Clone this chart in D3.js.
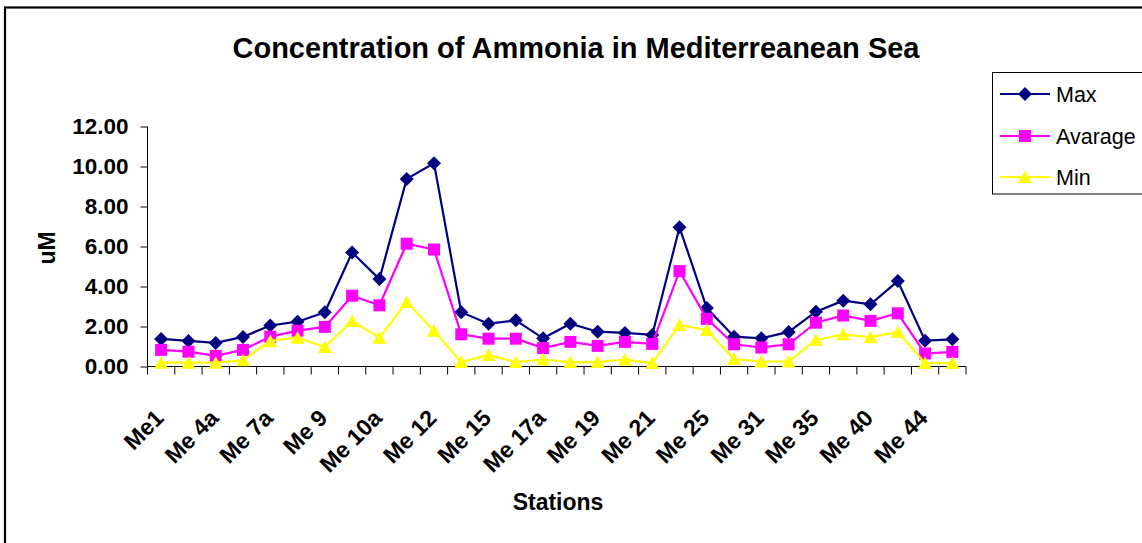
<!DOCTYPE html>
<html>
<head>
<meta charset="utf-8">
<script src="https://cdn.jsdelivr.net/npm/d3@7"></script>
<style>
  html, body { margin: 0; padding: 0; background: #fff; }
  svg { display: block; font-family: "Liberation Sans", Arial, sans-serif; }
</style>
</head>
<body>
<svg id="chart" width="1142" height="543"></svg>
<script>
const stations = ["Me1","Me 3","Me 4a","Me 6","Me 7a","Me 8","Me 9","Me 10","Me 10a","Me 11",
  "Me 12","Me 13","Me 15","Me 16","Me 17a","Me 18","Me 19","Me 20","Me 21","Me 23",
  "Me 25","Me 27","Me 31","Me 33","Me 35","Me 37","Me 40","Me 42","Me 44","Me 46"];
const shownLabels = ["Me1","Me 4a","Me 7a","Me 9","Me 10a","Me 12","Me 15","Me 17a","Me 19","Me 21","Me 25","Me 31","Me 35","Me 40","Me 44"];
const maxValues = [1.38,1.28,1.18,1.48,2.05,2.24,2.71,5.70,4.37,9.38,
  10.16,2.71,2.14,2.31,1.41,2.14,1.74,1.68,1.58,6.96,
  2.92,1.49,1.41,1.73,2.74,3.29,3.11,4.27,1.29,1.36];
const avgValues = [0.83,0.74,0.53,0.83,1.49,1.79,1.98,3.54,3.06,6.14,
  5.85,1.61,1.39,1.39,0.92,1.23,1.03,1.23,1.13,4.77,
  2.38,1.11,0.95,1.11,2.19,2.55,2.28,2.66,0.65,0.73];
const minValues = [0.19,0.19,0.19,0.31,1.28,1.44,0.97,2.28,1.44,3.22,
  1.79,0.22,0.58,0.22,0.35,0.22,0.22,0.35,0.17,2.08,
  1.83,0.37,0.25,0.25,1.33,1.61,1.46,1.73,0.17,0.17];
const yTicks = [0,2,4,6,8,10,12];
const seriesNames = ["Max","Avarage","Min"];
const seriesColors = ["#000080","#FF00FF","#FFFF00"];
const seriesShapes = ["diamond","square","triangle"];

const svg = d3.select("#chart");
const plotLeft = 147.5, plotRight = 966, plotTop = 126.5, plotBottom = 366.5;

// outer frame
svg.append("rect").attr("x",5).attr("y",7.5).attr("width",1160).attr("height",560)
  .attr("fill","none").attr("stroke","#000").attr("stroke-width",2.2);

const x = d3.scaleBand().domain(stations).range([plotLeft, plotRight]);
const y = d3.scaleLinear().domain([0,12]).range([plotBottom, plotTop]);

// title
svg.append("text").attr("x",576).attr("y",58).attr("text-anchor","middle")
  .attr("font-weight","bold").attr("font-size",29)
  .text("Concentration of Ammonia in Mediterreanean Sea");

// y axis
const yAxis = svg.append("g").attr("transform",`translate(${plotLeft},0)`)
  .call(d3.axisLeft(y).tickValues(yTicks).tickFormat(d3.format(".2f")).tickSize(7).tickPadding(12));
yAxis.select(".domain").attr("stroke","#000").attr("stroke-width",1).attr("d",`M0,${plotTop}V${plotBottom}`);
yAxis.selectAll(".tick line").attr("stroke","#000");
yAxis.selectAll(".tick text").attr("font-size",22.5).attr("font-weight","bold")
  .attr("font-family","'Liberation Sans', Arial, sans-serif").attr("fill","#000");

// x axis line and boundary ticks
const xg = svg.append("g");
xg.append("line").attr("x1",plotLeft).attr("x2",plotRight).attr("y1",plotBottom).attr("y2",plotBottom)
  .attr("stroke","#000").attr("stroke-width",1);
const boundaries = stations.map(s => x(s)).concat([plotRight]);
xg.selectAll("line.tk").data(boundaries).enter().append("line").attr("class","tk")
  .attr("x1",d=>d).attr("x2",d=>d).attr("y1",plotBottom).attr("y2",plotBottom+8)
  .attr("stroke","#000").attr("stroke-width",1);

// x labels
xg.selectAll("text.xl").data(stations.filter(s => shownLabels.includes(s))).enter().append("text")
  .attr("class","xl")
  .attr("transform", d => `translate(${x(d)+x.bandwidth()/2+4},${419.5}) rotate(-45)`)
  .attr("text-anchor","end").attr("font-weight","bold").attr("font-size",23).text(d=>d);

// axis titles
svg.append("text").attr("transform","translate(55,248) rotate(-90)").attr("text-anchor","middle")
  .attr("font-weight","bold").attr("font-size",23).text("uM");
svg.append("text").attr("x",558).attr("y",510).attr("text-anchor","middle")
  .attr("font-weight","bold").attr("font-size",23).text("Stations");

function markerPath(shape){
  if(shape==="diamond") return "M0,-7L7,0L0,7L-7,0Z";
  if(shape==="square") return "M-6,-6H6V6H-6Z";
  return "M0,-6.5L7,6H-7Z";
}

const allSeries = [maxValues, avgValues, minValues];
const line = d3.line().x((d,i)=>x(stations[i])+x.bandwidth()/2).y(d=>y(d));
allSeries.forEach((vals, si) => {
  const g = svg.append("g");
  g.append("path").attr("d", line(vals)).attr("fill","none")
    .attr("stroke",seriesColors[si]).attr("stroke-width",2.2);
  g.selectAll("path.m").data(vals).enter().append("path").attr("class","m")
    .attr("transform",(d,i)=>`translate(${x(stations[i])+x.bandwidth()/2},${y(d)})`)
    .attr("d", markerPath(seriesShapes[si])).attr("fill",seriesColors[si]);
});

// legend
const lg = svg.append("g");
lg.append("rect").attr("x",992.5).attr("y",72.5).attr("width",200).attr("height",121.5)
  .attr("fill","#fff").attr("stroke","#000").attr("stroke-width",1);
const legendY = [94,136,177];
seriesNames.forEach((name, i) => {
  lg.append("line").attr("x1",1000).attr("x2",1050).attr("y1",legendY[i]).attr("y2",legendY[i])
    .attr("stroke",seriesColors[i]).attr("stroke-width",2);
  lg.append("path").attr("transform",`translate(1025,${legendY[i]})`)
    .attr("d", markerPath(seriesShapes[i])).attr("fill",seriesColors[i]);
  lg.append("text").attr("x",1056).attr("y",legendY[i]+7.5).attr("font-size",21.5).text(name);
});
</script>
</body>
</html>
